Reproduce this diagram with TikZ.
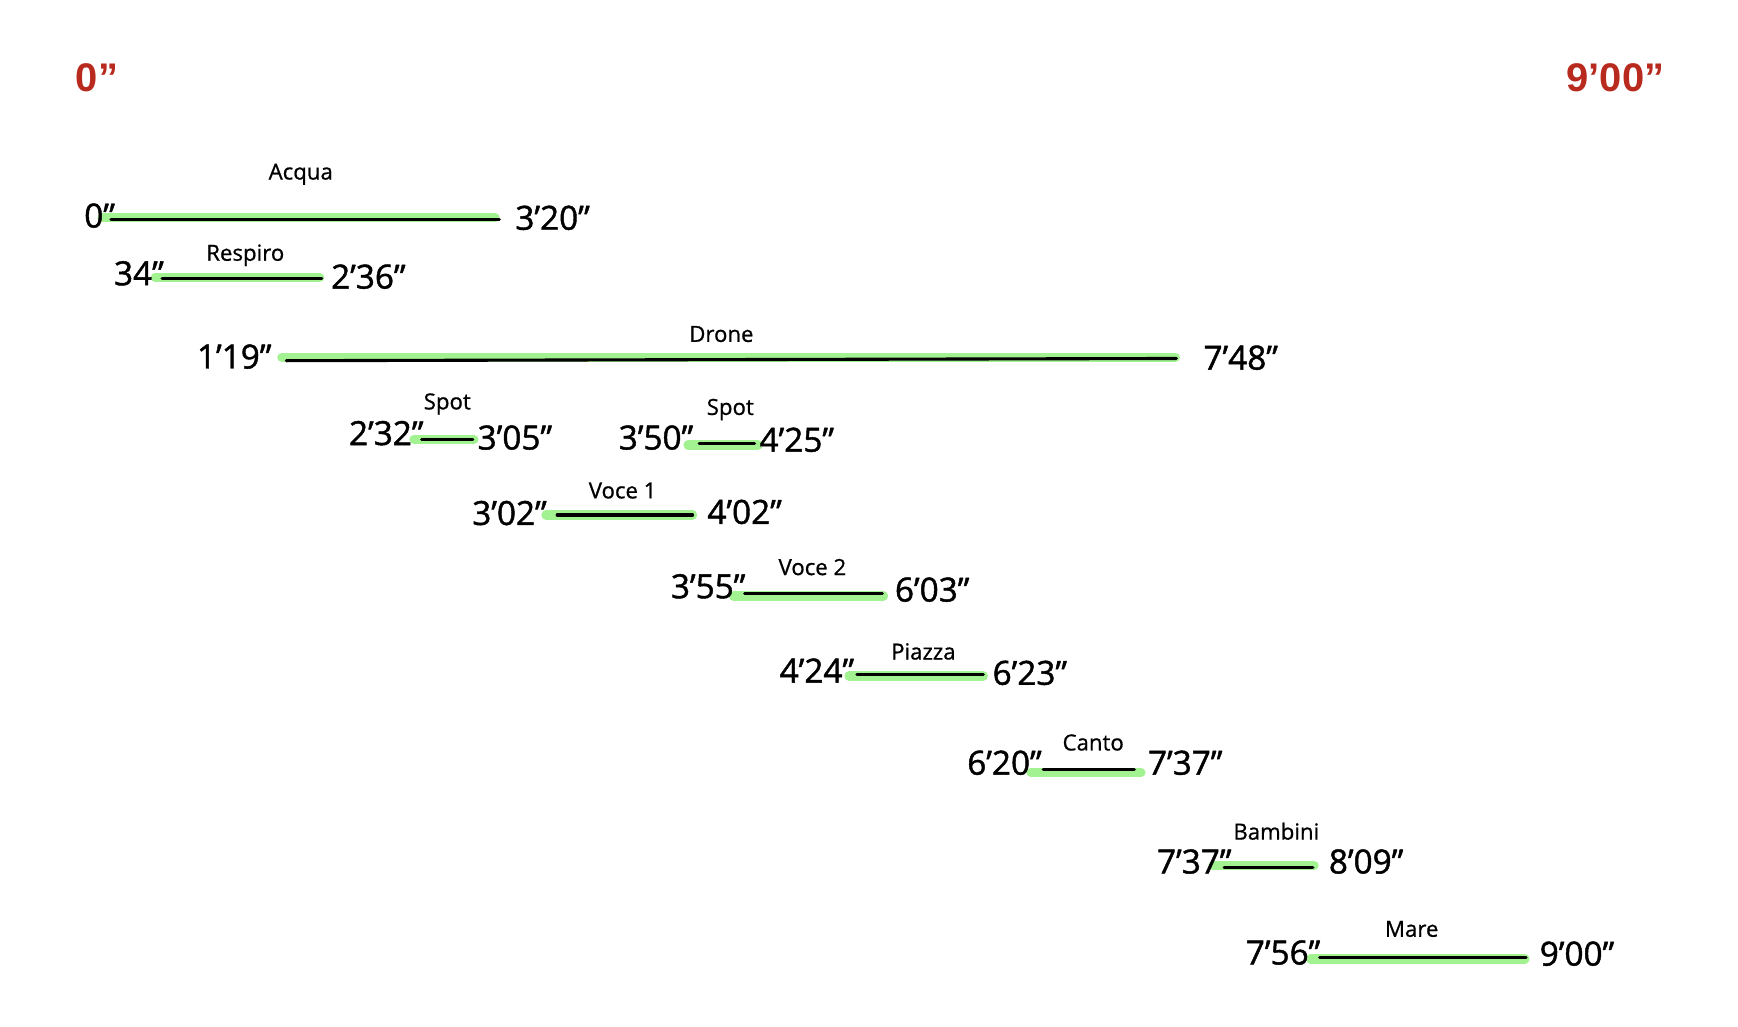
\documentclass[tikz,border=0pt]{standalone}
\usepackage{fontspec}
\setmainfont{Open Sans}
\newfontfamily\stampfont[FakeBold=1.3]{Open Sans}
\newfontfamily\labelfont[FakeBold=0.8]{Open Sans}
\newfontfamily\titlefont{Liberation Sans}
\definecolor{barg}{HTML}{A3F291}
\definecolor{titlered}{HTML}{B8291E}
\tikzset{
  greenbar/.style={draw=barg, line width=4.2pt, line cap=round},
  blackbar/.style={draw=black, line width=1.4pt, line cap=round},
  timestamp/.style={font=\stampfont\fontsize{15}{15}\selectfont, inner sep=0pt},
  seglabel/.style={font=\labelfont\fontsize{10}{10}\selectfont, inner sep=0pt},
  heading/.style={font=\titlefont\bfseries\fontsize{18}{18}\selectfont, text=titlered, inner sep=0pt}
}
\begin{document}
\begin{tikzpicture}[x=0.5pt,y=-0.5pt]
\useasboundingbox[fill=white] (0,0) rectangle (1566,925);

% headings
\node[heading, anchor=base west] (start) at (68,82) {0”};
\node[heading, anchor=base east] (end) at (1500,82) {9’00”};

% Acqua
\coordinate (acquaG1) at (92,196); \coordinate (acquaG2) at (446,196);
\coordinate (acquaB1) at (100,198); \coordinate (acquaB2) at (450,198);
\draw[greenbar] (acquaG1) -- (acquaG2);
\draw[blackbar] (acquaB1) -- (acquaB2);
\node[seglabel] (acqua) at (271,157) {Acqua};
\node[timestamp, anchor=base east] (acquaS) at (104,205) {0”};
\node[timestamp, anchor=base west] (acquaE) at (464,207) {3’20”};

% Respiro
\coordinate (respG1) at (140,250); \coordinate (respG2) at (288,250);
\coordinate (respB1) at (146,251); \coordinate (respB2) at (290,251);
\draw[greenbar] (respG1) -- (respG2);
\draw[blackbar] (respB1) -- (respB2);
\node[seglabel] (respiro) at (221,230) {Respiro};
\node[timestamp, anchor=base east] (respS) at (148,257) {34”};
\node[timestamp, anchor=base west] (respE) at (298,260) {2’36”};

% Drone
\coordinate (droneG1) at (254,322); \coordinate (droneG2) at (1059,322);
\coordinate (droneB1) at (258,325); \coordinate (droneB2) at (1060,323);
\draw[greenbar] (droneG1) -- (droneG2);
\draw[blackbar] (droneB1) -- (droneB2);
\node[seglabel] (drone) at (650,301) {Drone};
\node[timestamp, anchor=base east] (droneS) at (245,332) {1’19”};
\node[timestamp, anchor=base west] (droneE) at (1084,333) {7’48”};

% Spot 1
\coordinate (spotaG1) at (373,396); \coordinate (spotaG2) at (427,396);
\coordinate (spotaB1) at (380,396); \coordinate (spotaB2) at (426,396);
\draw[greenbar] (spotaG1) -- (spotaG2);
\draw[blackbar] (spotaB1) -- (spotaB2);
\node[seglabel] (spota) at (403,364) {Spot};
\node[timestamp, anchor=base east] (spotaS) at (382,401) {2’32”};
\node[timestamp, anchor=base west] (spotaE) at (430,405) {3’05”};

% Spot 2
\coordinate (spotbG1) at (620,401); \coordinate (spotbG2) at (683,401);
\coordinate (spotbB1) at (630,400); \coordinate (spotbB2) at (680,400);
\draw[greenbar] (spotbG1) -- (spotbG2);
\draw[blackbar] (spotbB1) -- (spotbB2);
\node[seglabel] (spotb) at (658,369) {Spot};
\node[timestamp, anchor=base east] (spotbS) at (625,405) {3’50”};
\node[timestamp, anchor=base west] (spotbE) at (684,407) {4’25”};

% Voce 1
\coordinate (voceaG1) at (492,464); \coordinate (voceaG2) at (624,464);
\coordinate (voceaB1) at (502,464); \coordinate (voceaB2) at (624,464);
\draw[greenbar] (voceaG1) -- (voceaG2);
\draw[blackbar] (voceaB1) -- (voceaB2);
\node[seglabel] (vocea) at (561,442) {Voce 1};
\node[timestamp, anchor=base east] (voceaS) at (493,473) {3’02”};
\node[timestamp, anchor=base west] (voceaE) at (637,472) {4’02”};

% Voce 2
\coordinate (vocebG1) at (661,537); \coordinate (vocebG2) at (796,537);
\coordinate (vocebB1) at (671,535); \coordinate (vocebB2) at (795,535);
\draw[greenbar] (vocebG1) -- (vocebG2);
\draw[blackbar] (vocebB1) -- (vocebB2);
\node[seglabel] (voceb) at (732,511) {Voce 2};
\node[timestamp, anchor=base east] (vocebS) at (672,539) {3’55”};
\node[timestamp, anchor=base west] (vocebE) at (806,542) {6’03”};

% Piazza
\coordinate (piazzaG1) at (765,609); \coordinate (piazzaG2) at (886,609);
\coordinate (piazzaB1) at (772,608); \coordinate (piazzaB2) at (886,608);
\draw[greenbar] (piazzaG1) -- (piazzaG2);
\draw[blackbar] (piazzaB1) -- (piazzaB2);
\node[seglabel] (piazza) at (832,587) {Piazza};
\node[timestamp, anchor=base east] (piazzaS) at (770,615) {4’24”};
\node[timestamp, anchor=base west] (piazzaE) at (894,617) {6’23”};

% Canto
\coordinate (cantoG1) at (929,696); \coordinate (cantoG2) at (1028,696);
\coordinate (cantoB1) at (940,693); \coordinate (cantoB2) at (1022,693);
\draw[greenbar] (cantoG1) -- (cantoG2);
\draw[blackbar] (cantoB1) -- (cantoB2);
\node[seglabel] (canto) at (985,669) {Canto};
\node[timestamp, anchor=base east] (cantoS) at (939,698) {6’20”};
\node[timestamp, anchor=base west] (cantoE) at (1034,698) {7’37”};

% Bambini
\coordinate (bambG1) at (1093,780); \coordinate (bambG2) at (1184,780);
\coordinate (bambB1) at (1103,782); \coordinate (bambB2) at (1183,782);
\draw[greenbar] (bambG1) -- (bambG2);
\draw[blackbar] (bambB1) -- (bambB2);
\node[seglabel] (bambini) at (1150,749) {Bambini};
\node[timestamp, anchor=base east] (bambS) at (1110,787) {7’37”};
\node[timestamp, anchor=base west] (bambE) at (1197,787) {8’09”};

% Mare
\coordinate (mareG1) at (1181,864); \coordinate (mareG2) at (1374,864);
\coordinate (mareB1) at (1189,863); \coordinate (mareB2) at (1375,863);
\draw[greenbar] (mareG1) -- (mareG2);
\draw[blackbar] (mareB1) -- (mareB2);
\node[seglabel] (mare) at (1272,837) {Mare};
\node[timestamp, anchor=base east] (mareS) at (1190,869) {7’56”};
\node[timestamp, anchor=base west] (mareE) at (1387,870) {9’00”};
\end{tikzpicture}
\end{document}
